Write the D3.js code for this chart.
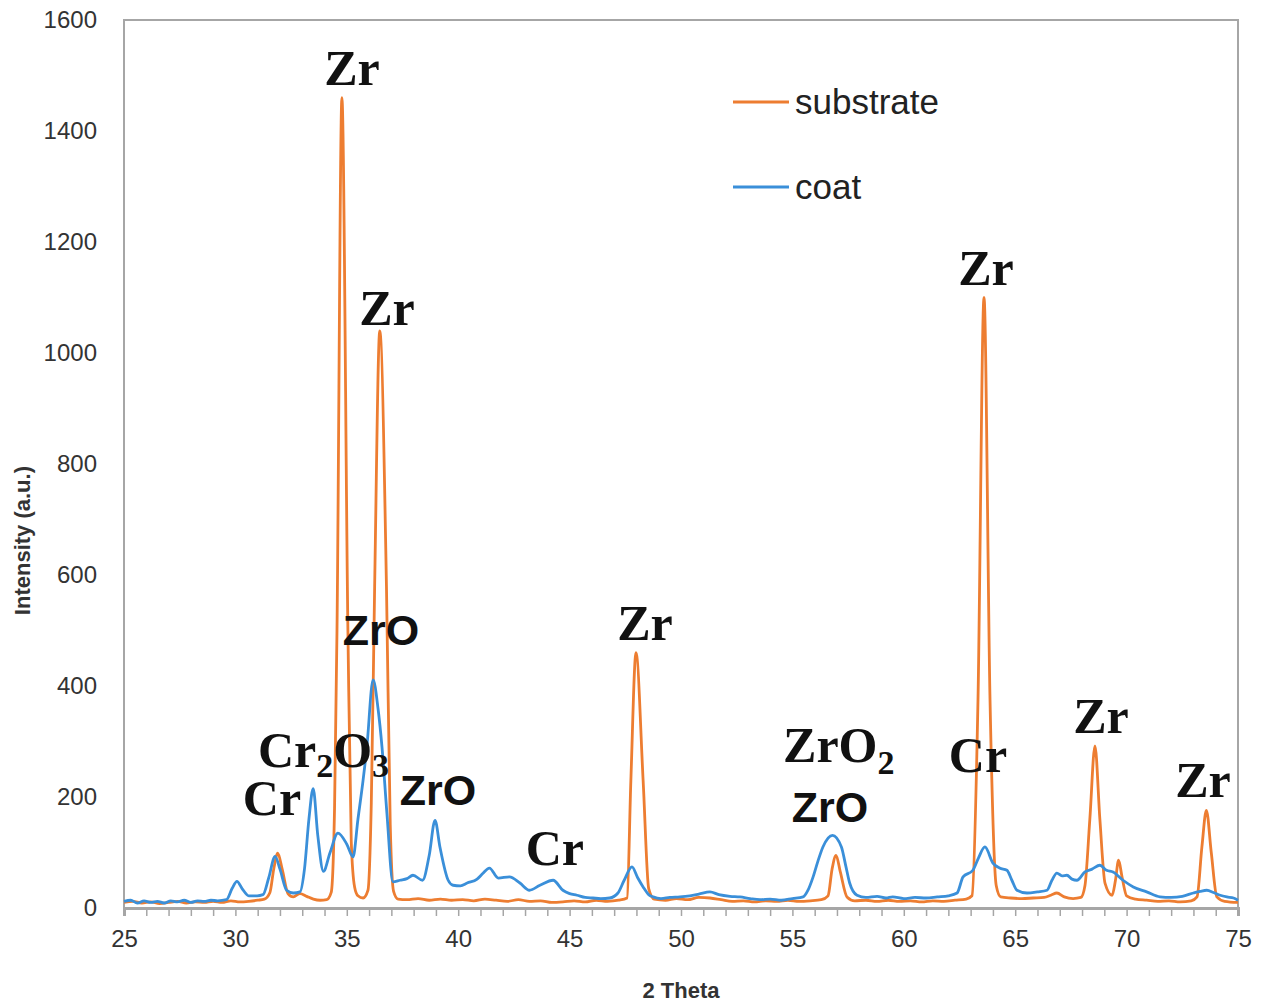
<!DOCTYPE html>
<html>
<head>
<meta charset="utf-8">
<script src="https://cdn.jsdelivr.net/npm/d3@7"></script>
<style>
  body { margin: 0; background: #fff; }
  svg { display: block; }
</style>
</head>
<body>
<svg id="chart" width="1263" height="1002"></svg>
<script>
// 2 theta / intensity pairs
const substrate = [
  [25,10],[25.4,12],[25.8,9],[26.2,11],[26.6,8],[27,10],[27.4,12],[27.8,9],[28.2,11],[28.6,10],
  [29,12],[29.4,10],[29.8,13],[30.2,11],[30.6,12],[31,14],[31.3,16],[31.55,28],[31.72,70],[31.9,99],
  [32.1,70],[32.36,26],[32.6,20],[32.9,26],[33.2,21],[33.5,16],[33.8,14],[34.1,15],[34.3,28],[34.45,180],
  [34.56,500],[34.78,1460],[35.05,500],[35.2,120],[35.35,38],[35.5,22],[35.73,18],[35.95,32],[36.1,190],[36.25,580],
  [36.48,1040],[36.78,580],[36.95,150],[37.1,30],[37.3,16],[37.7,15],[38.2,17],[38.7,14],[39.2,16],[39.7,14],
  [40.2,15],[40.7,13],[41.2,16],[41.7,14],[42.2,12],[42.7,15],[43.2,12],[43.7,13],[44.2,10],[44.7,11],
  [45.2,13],[45.7,11],[46.2,14],[46.7,12],[47.2,14],[47.58,18],[47.75,230],[47.98,460],[48.3,230],[48.55,35],
  [48.8,16],[49.3,14],[49.8,17],[50.3,15],[50.8,19],[51.3,18],[51.8,15],[52.3,12],[52.8,13],[53.3,11],
  [53.8,13],[54.3,12],[54.8,14],[55.3,12],[55.8,13],[56.3,15],[56.6,22],[56.78,70],[56.96,95],[57.15,65],
  [57.45,20],[57.8,13],[58.3,14],[58.8,12],[59.3,14],[59.8,12],[60.3,13],[60.8,11],[61.3,13],[61.8,12],
  [62.3,14],[62.8,16],[63.06,22],[63.33,375],[63.6,1100],[63.87,375],[64.15,40],[64.35,20],[64.8,18],[65.3,17],
  [65.8,18],[66.3,19],[66.6,23],[66.87,27],[67.2,20],[67.6,17],[67.95,19],[68.13,40],[68.35,160],[68.58,292],
  [68.8,160],[69.03,45],[69.35,23],[69.5,50],[69.64,86],[69.8,55],[70.0,22],[70.4,16],[70.9,14],[71.4,12],
  [71.9,13],[72.4,11],[72.9,13],[73.16,20],[73.38,110],[73.58,176],[73.8,100],[74.05,20],[74.4,12],[75,10]
];

const coat = [
  [25,12],[25.3,14],[25.6,9],[25.9,13],[26.2,10],[26.5,12],[26.8,9],[27.1,13],[27.4,11],[27.7,14],
  [28,10],[28.3,13],[28.6,12],[28.9,14],[29.2,13],[29.6,15],[29.85,35],[30.07,48],[30.3,35],[30.6,22],
  [30.97,22],[31.24,24],[31.5,55],[31.78,93],[32.0,70],[32.3,32],[32.6,27],[32.9,29],[33.1,70],[33.3,160],
  [33.49,215],[33.7,130],[33.95,66],[34.25,100],[34.6,135],[35.0,115],[35.28,92],[35.5,160],[35.73,230],[35.9,290],
  [36.18,411],[36.4,360],[36.58,290],[36.8,171],[37.07,47],[37.39,50],[37.7,53],[37.97,59],[38.4,50],[38.7,95],
  [38.96,158],[39.18,110],[39.55,50],[39.77,41],[40.1,40],[40.4,45],[40.85,52],[41.1,62],[41.4,72],[41.8,54],
  [42.3,56],[42.77,45],[43.2,32],[43.67,41],[44.26,50],[44.7,32],[45.0,26],[45.33,23],[45.7,19],[46.05,18],
  [46.4,17],[46.8,18],[47.17,27],[47.45,50],[47.8,74],[48.05,55],[48.3,38],[48.55,24],[48.75,20],[49.1,17],
  [49.5,19],[49.95,20],[50.4,22],[50.8,25],[51.3,29],[51.7,24],[52.2,21],[52.65,20],[53.1,17],[53.55,15],
  [54.0,16],[54.5,14],[55.0,17],[55.48,20],[55.7,32],[55.93,56],[56.15,85],[56.37,110],[56.8,131],[57.2,110],
  [57.4,75],[57.57,45],[57.9,23],[58.3,19],[58.8,21],[59.2,18],[59.5,20],[60.0,17],[60.5,19],[61.0,18],
  [61.5,20],[62.0,22],[62.39,27],[62.66,56],[63.1,68],[63.35,90],[63.64,110],[64.0,81],[64.3,72],[64.63,68],
  [64.85,50],[65.08,32],[65.53,27],[66.0,29],[66.43,32],[66.65,50],[66.87,63],[67.1,58],[67.32,59],[67.55,52],
  [67.77,50],[68.13,65],[68.45,70],[68.8,77],[69.1,68],[69.39,65],[69.84,50],[70.3,38],[70.9,29],[71.5,20],
  [72.0,19],[72.5,21],[73.0,27],[73.3,30],[73.6,32],[73.9,28],[74.2,23],[74.5,20],[74.8,18],[75,14]
];

// peak annotations: [text, subscript, 2 theta, intensity, serif?, anchor]
const peakLabels = [
  ["Zr", "", 35.23, 1483, true, "middle"],
  ["Zr", "", 36.80, 1050, true, "middle"],
  ["ZrO", "", 36.53, 474, false, "middle"],
  ["Cr", "2O", 31.01, 254, true, "start"],
  ["Cr", "", 31.64, 168, true, "middle"],
  ["ZrO", "", 39.09, 186, false, "middle"],
  ["Cr", "", 44.34, 77, true, "middle"],
  ["Zr", "", 48.38, 483, true, "middle"],
  ["ZrO", "2", 54.58, 263, true, "start"],
  ["ZrO", "", 56.69, 155, false, "middle"],
  ["Cr", "", 63.33, 245, true, "middle"],
  ["Zr", "", 63.69, 1123, true, "middle"],
  ["Zr", "", 68.85, 315, true, "middle"],
  ["Zr", "", 73.43, 200, true, "middle"]
];

const yTicks = [0, 200, 400, 600, 800, 1000, 1200, 1400, 1600];
const xTicks = [25, 30, 35, 40, 45, 50, 55, 60, 65, 70, 75];
const seriesNames = ["substrate", "coat"];
const colors = { substrate: "#ED7D31", coat: "#3A8FD9" };

const svg = d3.select("#chart");
const margin = { top: 20, right: 25, bottom: 94, left: 124 },
      width = +svg.attr("width") - margin.left - margin.right,
      height = +svg.attr("height") - margin.top - margin.bottom;

const g = svg.append("g").attr("transform", `translate(${margin.left},${margin.top})`);

const x = d3.scaleLinear().domain([25, 75]).range([0, width]);
const y = d3.scaleLinear().domain([0, 1600]).range([height, 0]);

// plot frame
g.append("rect").attr("x", 0).attr("y", 0).attr("width", width).attr("height", height)
  .attr("fill", "none").attr("stroke", "#a6a6a6").attr("stroke-width", 2);

// y axis labels
g.append("g").call(d3.axisLeft(y).tickValues(yTicks).tickSize(0).tickPadding(27).tickFormat(d3.format("d")))
  .call(a => a.select(".domain").remove())
  .selectAll("text").style("font-family", "Liberation Sans, Arial, sans-serif").style("font-size", "24px").style("fill", "#333");

// x axis with minor ticks every unit
g.append("g").attr("transform", `translate(0,${height})`)
  .call(d3.axisBottom(x).tickValues(d3.range(25, 76, 1)).tickSize(8).tickFormat(""))
  .call(a => a.select(".domain").attr("stroke", "#a6a6a6").attr("stroke-width", 3))
  .call(a => a.selectAll(".tick line").attr("stroke", "#a6a6a6").attr("stroke-width", 1.5));

g.append("g").attr("transform", `translate(0,${height})`)
  .call(d3.axisBottom(x).tickValues(xTicks).tickSize(0).tickPadding(22).tickFormat(d3.format("d")))
  .call(a => a.select(".domain").remove())
  .selectAll("text").style("font-family", "Liberation Sans, Arial, sans-serif").style("font-size", "24px").style("fill", "#333");

// axis titles
svg.append("text").attr("x", margin.left + x(50)).attr("y", 998)
  .style("text-anchor", "middle").style("font-family", "Liberation Sans, Arial, sans-serif")
  .style("font-size", "22px").style("font-weight", "bold").style("fill", "#333").text("2 Theta");
svg.append("text").attr("transform", `translate(30,${margin.top + y(662)}) rotate(-90)`)
  .style("text-anchor", "middle").style("font-family", "Liberation Sans, Arial, sans-serif")
  .style("font-size", "22px").style("font-weight", "bold").style("fill", "#333").text("Intensity (a.u.)");

// lines
const line = d3.line().x(d => x(d[0])).y(d => y(d[1])).curve(d3.curveMonotoneX);
g.append("path").datum(substrate).attr("fill", "none").attr("stroke", colors.substrate)
  .attr("stroke-width", 2.8).attr("stroke-linejoin", "round").attr("d", line);
g.append("path").datum(coat).attr("fill", "none").attr("stroke", colors.coat)
  .attr("stroke-width", 2.8).attr("stroke-linejoin", "round").attr("d", line);

// legend
const legend = svg.append("g").selectAll("g").data(seriesNames).enter().append("g")
  .attr("transform", (d, i) => `translate(733,${102 + i * 85})`);
legend.append("line").attr("x1", 0).attr("x2", 56).attr("y1", 0).attr("y2", 0)
  .attr("stroke", d => colors[d]).attr("stroke-width", 3);
legend.append("text").attr("x", 62).attr("y", 0).attr("dy", "0.35em")
  .style("font-family", "Liberation Sans, Arial, sans-serif").style("font-size", "35px").style("fill", "#222")
  .text(d => d);

// peak labels
peakLabels.forEach(p => {
  const [txt, sub, px, py, serif, anchor] = p;
  const t = g.append("text").attr("x", x(px)).attr("y", y(py))
    .style("text-anchor", anchor).style("font-weight", "bold").style("fill", "#111")
    .style("font-family", serif ? "Liberation Serif, Times New Roman, serif" : "Liberation Sans, Arial, sans-serif")
    .style("font-size", serif ? "50px" : "43px");
  if (sub === "2O") {
    t.append("tspan").text("Cr");
    t.append("tspan").attr("dy", 10).style("font-size", "34px").text("2");
    t.append("tspan").attr("dy", -10).text("O");
    t.append("tspan").attr("dy", 10).style("font-size", "34px").text("3");
  } else if (sub) {
    t.append("tspan").text(txt);
    t.append("tspan").attr("dy", 12).style("font-size", "34px").text(sub);
  } else {
    t.text(txt);
  }
});
</script>
</body>
</html>
